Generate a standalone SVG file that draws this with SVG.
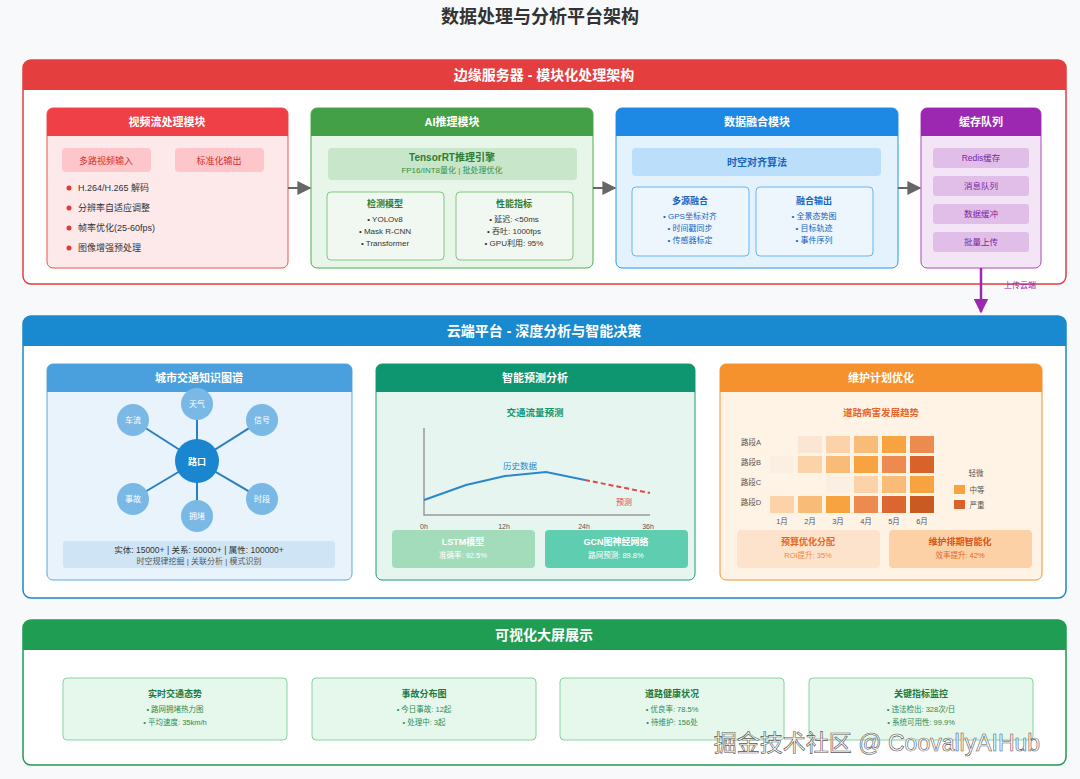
<svg xmlns="http://www.w3.org/2000/svg" width="1080" height="779" viewBox="0 0 1080 779">
<defs>
<style>
text{font-family:"Liberation Sans","Noto Sans CJK SC",sans-serif;text-anchor:middle}
.ht{fill:#fff;font-weight:bold;font-size:14px}
.mt{fill:#fff;font-weight:bold;font-size:11px}
.s{font-size:8px;fill:#333}
.b{font-weight:bold}
</style>
<marker id="ag" viewBox="0 0 10 10" refX="9" refY="5" markerWidth="7" markerHeight="7" orient="auto"><path d="M0,0L10,5L0,10z" fill="#666"/></marker>
<marker id="ap" viewBox="0 0 10 10" refX="9" refY="5" markerWidth="6" markerHeight="6" orient="auto"><path d="M0,0L10,5L0,10z" fill="#9c27b0"/></marker>
</defs>
<rect width="1080" height="779" fill="#f7f9fb"/>
<text x="540" y="23" font-size="18" class="b" fill="#333">数据处理与分析平台架构</text>

<g id="edge">
<rect x="23" y="60" width="1043" height="224" rx="8" fill="#fff" stroke="#e53e3e" stroke-width="1.5"/>
<path d="M31,60H1058a8,8 0 0 1 8,8V90H23V68a8,8 0 0 1 8,-8z" fill="#e53e3e"/>
<text x="544" y="80" class="ht">边缘服务器 - 模块化处理架构</text>
</g>

<g id="video">
<rect x="47" y="108" width="241" height="160" rx="6" fill="#fde8ea" stroke="#ef5350"/>
<path d="M53,108H282a6,6 0 0 1 6,6V136H47V114a6,6 0 0 1 6,-6z" fill="#ef4048"/>
<text x="167" y="126" class="mt">视频流处理模块</text>
<rect x="62" y="148" width="89" height="24" rx="4" fill="#fcc6cb"/>
<text x="106" y="164" font-size="9" fill="#d32f2f">多路视频输入</text>
<rect x="175" y="148" width="89" height="24" rx="4" fill="#fcc6cb"/>
<text x="219" y="164" font-size="9" fill="#d32f2f">标准化输出</text>
<g fill="#e53935"><circle cx="69" cy="188" r="2.5"/><circle cx="69" cy="208" r="2.5"/><circle cx="69" cy="228" r="2.5"/><circle cx="69" cy="248" r="2.5"/></g>
<g font-size="9" fill="#333">
<text x="78" y="191" style="text-anchor:start">H.264/H.265 解码</text>
<text x="78" y="211" style="text-anchor:start">分辨率自适应调整</text>
<text x="78" y="231" style="text-anchor:start">帧率优化(25-60fps)</text>
<text x="78" y="251" style="text-anchor:start">图像增强预处理</text>
</g>
</g>

<g id="ai">
<rect x="311" y="108" width="282" height="160" rx="6" fill="#e8f5e9" stroke="#4caf50"/>
<path d="M317,108H587a6,6 0 0 1 6,6V136H311V114a6,6 0 0 1 6,-6z" fill="#43a047"/>
<text x="452" y="126" class="mt">AI推理模块</text>
<rect x="328" y="148" width="249" height="32" rx="4" fill="#c8e6c9"/>
<text x="452" y="161" font-size="10" class="b" fill="#2e7d32">TensorRT推理引擎</text>
<text x="452" y="173" font-size="8" fill="#388e3c">FP16/INT8量化 | 批处理优化</text>
<rect x="327" y="192" width="117" height="68" rx="4" fill="#f1f8f1" stroke="#81c784"/>
<text x="385" y="207" font-size="9" class="b" fill="#2e7d32">检测模型</text>
<text x="385" y="222" class="s">• YOLOv8</text>
<text x="385" y="234" class="s">• Mask R-CNN</text>
<text x="385" y="246" class="s">• Transformer</text>
<rect x="456" y="192" width="117" height="68" rx="4" fill="#f1f8f1" stroke="#81c784"/>
<text x="514" y="207" font-size="9" class="b" fill="#2e7d32">性能指标</text>
<text x="514" y="222" class="s">• 延迟: &lt;50ms</text>
<text x="514" y="234" class="s">• 吞吐: 1000fps</text>
<text x="514" y="246" class="s">• GPU利用: 95%</text>
</g>

<g id="fusion">
<rect x="616" y="108" width="282" height="160" rx="6" fill="#e3f2fd" stroke="#2196f3"/>
<path d="M622,108H892a6,6 0 0 1 6,6V136H616V114a6,6 0 0 1 6,-6z" fill="#1e88e5"/>
<text x="757" y="126" class="mt">数据融合模块</text>
<rect x="632" y="148" width="249" height="28" rx="4" fill="#bbdefb"/>
<text x="757" y="166" font-size="10" class="b" fill="#1565c0">时空对齐算法</text>
<rect x="632" y="187" width="117" height="69" rx="4" fill="#eef6fd" stroke="#64b5f6"/>
<text x="690" y="204" font-size="9" class="b" fill="#1565c0">多源融合</text>
<text x="690" y="219" class="s" style="fill:#1565c0">• GPS坐标对齐</text>
<text x="690" y="231" class="s" style="fill:#1565c0">• 时间戳同步</text>
<text x="690" y="243" class="s" style="fill:#1565c0">• 传感器标定</text>
<rect x="756" y="187" width="117" height="69" rx="4" fill="#eef6fd" stroke="#64b5f6"/>
<text x="814" y="204" font-size="9" class="b" fill="#1565c0">融合输出</text>
<text x="814" y="219" class="s" style="fill:#1565c0">• 全景态势图</text>
<text x="814" y="231" class="s" style="fill:#1565c0">• 目标轨迹</text>
<text x="814" y="243" class="s" style="fill:#1565c0">• 事件序列</text>
</g>

<g id="cache">
<rect x="921" y="108" width="120" height="160" rx="6" fill="#f3e5f5" stroke="#ab47bc"/>
<path d="M927,108H1035a6,6 0 0 1 6,6V136H921V114a6,6 0 0 1 6,-6z" fill="#9c27b0"/>
<text x="981" y="126" class="mt">缓存队列</text>
<g fill="#e1bee7"><rect x="933" y="148" width="96" height="20" rx="3"/><rect x="933" y="176" width="96" height="20" rx="3"/><rect x="933" y="204" width="96" height="20" rx="3"/><rect x="933" y="232" width="96" height="20" rx="3"/></g>
<g font-size="8.5" fill="#7b1fa2"><text x="981" y="161">Redis缓存</text><text x="981" y="189">消息队列</text><text x="981" y="217">数据缓冲</text><text x="981" y="245">批量上传</text></g>
</g>

<g id="connectors">
<line x1="288" y1="188" x2="310" y2="188" stroke="#666" stroke-width="2" marker-end="url(#ag)"/>
<line x1="593" y1="188" x2="615" y2="188" stroke="#666" stroke-width="2" marker-end="url(#ag)"/>
<line x1="898" y1="188" x2="920" y2="188" stroke="#666" stroke-width="2" marker-end="url(#ag)"/>
<line x1="981" y1="268" x2="981" y2="312" stroke="#9c27b0" stroke-width="2.5" marker-end="url(#ap)"/>
<text x="1020" y="288" font-size="8" fill="#9c27b0">上传云端</text>
</g>

<g id="cloud">
<rect x="23" y="316" width="1043" height="282" rx="8" fill="#fff" stroke="#1e88c8" stroke-width="1.5"/>
<path d="M31,316H1058a8,8 0 0 1 8,8V346H23V324a8,8 0 0 1 8,-8z" fill="#1a8ad0"/>
<text x="544" y="336" class="ht">云端平台 - 深度分析与智能决策</text>
</g>

<g id="kg">
<rect x="47" y="364" width="305" height="216" rx="6" fill="#e8f3fb" stroke="#5aa8e0"/>
<path d="M53,364H346a6,6 0 0 1 6,6V392H47V370a6,6 0 0 1 6,-6z" fill="#4aa0dc"/>
<text x="199" y="382" class="mt">城市交通知识图谱</text>
<g stroke="#2a7fc0" stroke-width="2">
<line x1="197" y1="461" x2="197" y2="404"/><line x1="197" y1="461" x2="262" y2="420"/><line x1="197" y1="461" x2="262" y2="499"/>
<line x1="197" y1="461" x2="197" y2="516"/><line x1="197" y1="461" x2="133" y2="499"/><line x1="197" y1="461" x2="133" y2="420"/>
</g>
<g fill="#7ab8e6"><circle cx="197" cy="404" r="16"/><circle cx="262" cy="420" r="16"/><circle cx="262" cy="499" r="16"/><circle cx="197" cy="516" r="16"/><circle cx="133" cy="499" r="16"/><circle cx="133" cy="420" r="16"/></g>
<circle cx="197" cy="461" r="22" fill="#1a86d0"/>
<g font-size="8" fill="#fff"><text x="197" y="407">天气</text><text x="262" y="423">信号</text><text x="262" y="502">时段</text><text x="197" y="519">拥堵</text><text x="133" y="502">事故</text><text x="133" y="423">车流</text></g>
<text x="197" y="465" font-size="9" class="b" fill="#fff">路口</text>
<rect x="63" y="541" width="272" height="27" rx="3" fill="#cfe5f5"/>
<text x="199" y="553" font-size="8.5" fill="#333">实体: 15000+ | 关系: 50000+ | 属性: 100000+</text>
<text x="199" y="564" font-size="8" fill="#555">时空规律挖掘 | 关联分析 | 模式识别</text>
</g>

<g id="predict">
<rect x="376" y="364" width="319" height="216" rx="6" fill="#e6f5ef" stroke="#1f9a74"/>
<path d="M382,364H689a6,6 0 0 1 6,6V392H376V370a6,6 0 0 1 6,-6z" fill="#0e9670"/>
<text x="535" y="382" class="mt">智能预测分析</text>
<text x="535" y="416" font-size="9.5" class="b" fill="#0e9670">交通流量预测</text>
<path d="M424,428V515H650" fill="none" stroke="#999" stroke-width="1.5"/>
<polyline points="424,500 466,485 505,476 546,472 585,480" fill="none" stroke="#2a86d0" stroke-width="2"/>
<line x1="585" y1="480" x2="650" y2="493" stroke="#e04848" stroke-width="2" stroke-dasharray="5,3"/>
<text x="520" y="469" font-size="8.5" fill="#2a86d0">历史数据</text>
<text x="624" y="505" font-size="8" fill="#e04848">预测</text>
<g font-size="7" fill="#555"><text x="424" y="529">0h</text><text x="504" y="529">12h</text><text x="584" y="529">24h</text><text x="648" y="529">36h</text></g>
<rect x="392" y="530" width="143" height="38" rx="4" fill="#a3dcbb"/>
<text x="463" y="545" font-size="9" class="b" fill="#fff">LSTM模型</text>
<text x="463" y="558" font-size="7.5" fill="#fff">准确率: 92.5%</text>
<rect x="545" y="530" width="143" height="38" rx="4" fill="#5fcdb0"/>
<text x="616" y="545" font-size="9" class="b" fill="#fff">GCN图神经网络</text>
<text x="616" y="558" font-size="7.5" fill="#fff">路网预测: 89.8%</text>
</g>

<g id="maint">
<rect x="720" y="364" width="322" height="216" rx="6" fill="#fff3e6" stroke="#f5922e"/>
<path d="M726,364H1036a6,6 0 0 1 6,6V392H720V370a6,6 0 0 1 6,-6z" fill="#f5922e"/>
<text x="881" y="382" class="mt">维护计划优化</text>
<text x="881" y="416" font-size="9.5" class="b" fill="#e8652a">道路病害发展趋势</text>
<g font-size="7.5" fill="#555"><text x="751" y="445">路段A</text><text x="751" y="465">路段B</text><text x="751" y="485">路段C</text><text x="751" y="505">路段D</text></g>
<g>
<rect x="798" y="436" width="24" height="17" fill="#fbe6d4"/><rect x="826" y="436" width="24" height="17" fill="#fcd3a8"/><rect x="854" y="436" width="24" height="17" fill="#f9bb78"/><rect x="882" y="436" width="24" height="17" fill="#f7a440"/><rect x="910" y="436" width="24" height="17" fill="#ec8a4f"/>
<rect x="770" y="456" width="24" height="17" fill="#fbeee2"/><rect x="798" y="456" width="24" height="17" fill="#fcd3a8"/><rect x="826" y="456" width="24" height="17" fill="#f9bb78"/><rect x="854" y="456" width="24" height="17" fill="#f7a440"/><rect x="882" y="456" width="24" height="17" fill="#ec8a4f"/><rect x="910" y="456" width="24" height="17" fill="#d9622b"/>
<rect x="826" y="476" width="24" height="17" fill="#fbeee2"/><rect x="854" y="476" width="24" height="17" fill="#fcd3a8"/><rect x="882" y="476" width="24" height="17" fill="#f9bb78"/><rect x="910" y="476" width="24" height="17" fill="#f7a440"/>
<rect x="770" y="496" width="24" height="17" fill="#fcd3a8"/><rect x="798" y="496" width="24" height="17" fill="#f9bb78"/><rect x="826" y="496" width="24" height="17" fill="#f7a440"/><rect x="854" y="496" width="24" height="17" fill="#ec8a4f"/><rect x="882" y="496" width="24" height="17" fill="#dc6630"/><rect x="910" y="496" width="24" height="17" fill="#c95a22"/>
</g>
<g font-size="7.5" fill="#555"><text x="782" y="524">1月</text><text x="810" y="524">2月</text><text x="838" y="524">3月</text><text x="866" y="524">4月</text><text x="894" y="524">5月</text><text x="922" y="524">6月</text></g>
<text x="976" y="476" font-size="7.5" fill="#555">轻微</text>
<rect x="954" y="485" width="11" height="9" fill="#f7a440"/><text x="977" y="493" font-size="7.5" fill="#555">中等</text>
<rect x="954" y="500" width="11" height="9" fill="#d9622b"/><text x="977" y="508" font-size="7.5" fill="#555">严重</text>
<rect x="737" y="530" width="143" height="38" rx="4" fill="#fde3cc"/>
<text x="808" y="545" font-size="9" class="b" fill="#e8652a">预算优化分配</text>
<text x="808" y="558" font-size="7.5" fill="#f08a3a">ROI提升: 35%</text>
<rect x="889" y="530" width="143" height="38" rx="4" fill="#fcd1a5"/>
<text x="960" y="545" font-size="9" class="b" fill="#d9541e">维护排期智能化</text>
<text x="960" y="558" font-size="7.5" fill="#e8652a">效率提升: 42%</text>
</g>

<g id="viz">
<rect x="23" y="620" width="1043" height="145" rx="8" fill="#fff" stroke="#1e9a4f" stroke-width="1.5"/>
<path d="M31,620H1058a8,8 0 0 1 8,8V650H23V628a8,8 0 0 1 8,-8z" fill="#1f9d52"/>
<text x="544" y="640" class="ht">可视化大屏展示</text>
</g>
<g id="card1"><rect x="63" y="678" width="224" height="62" rx="4" fill="#e6f7ec" stroke="#86d3a2"/>
<text x="175" y="697" font-size="9" class="b" fill="#1b7a3f">实时交通态势</text><text x="175" y="712" font-size="7.5" fill="#2e8b4f">• 路网拥堵热力图</text><text x="175" y="725" font-size="7.5" fill="#2e8b4f">• 平均速度: 35km/h</text></g>
<g id="card2"><rect x="312" y="678" width="224" height="62" rx="4" fill="#e6f7ec" stroke="#86d3a2"/>
<text x="424" y="697" font-size="9" class="b" fill="#1b7a3f">事故分布图</text><text x="424" y="712" font-size="7.5" fill="#2e8b4f">• 今日事故: 12起</text><text x="424" y="725" font-size="7.5" fill="#2e8b4f">• 处理中: 3起</text></g>
<g id="card3"><rect x="560" y="678" width="224" height="62" rx="4" fill="#e6f7ec" stroke="#86d3a2"/>
<text x="672" y="697" font-size="9" class="b" fill="#1b7a3f">道路健康状况</text><text x="672" y="712" font-size="7.5" fill="#2e8b4f">• 优良率: 78.5%</text><text x="672" y="725" font-size="7.5" fill="#2e8b4f">• 待维护: 156处</text></g>
<g id="card4"><rect x="809" y="678" width="224" height="62" rx="4" fill="#e6f7ec" stroke="#86d3a2"/>
<text x="921" y="697" font-size="9" class="b" fill="#1b7a3f">关键指标监控</text><text x="921" y="712" font-size="7.5" fill="#2e8b4f">• 违法检出: 328次/日</text><text x="921" y="725" font-size="7.5" fill="#2e8b4f">• 系统可用性: 99.9%</text></g>
<text x="877" y="751" font-size="23" fill="#fff" stroke="#555" stroke-width="0.6">掘金技术社区 @ CoovallyAIHub</text>
</svg>
